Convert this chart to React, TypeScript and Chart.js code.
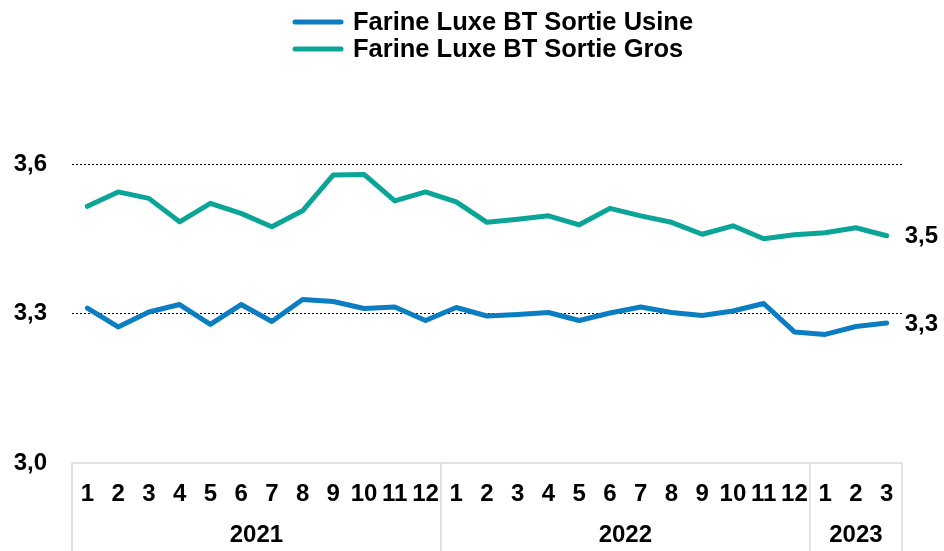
import React, { useEffect, useRef } from "react";
import { Chart, registerables } from "chart.js";

Chart.register(...registerables);

const months = ["1","2","3","4","5","6","7","8","9","10","11","12","1","2","3","4","5","6","7","8","9","10","11","12","1","2","3"];
const years = ["2021", "2022", "2023"];
const yearSizes = [12, 12, 3];

const usine = [3.311,3.273,3.303,3.318,3.278,3.318,3.284,3.328,3.324,3.310,3.313,3.286,3.312,3.295,3.298,3.302,3.286,3.301,3.313,3.302,3.296,3.305,3.320,3.263,3.258,3.274,3.281];
const gros = [3.515,3.544,3.531,3.484,3.521,3.501,3.474,3.506,3.578,3.579,3.526,3.544,3.524,3.483,3.489,3.496,3.478,3.511,3.496,3.483,3.459,3.476,3.450,3.458,3.462,3.472,3.456];

const seriesNames = ["Farine Luxe BT Sortie Usine", "Farine Luxe BT Sortie Gros"];
const seriesColors = ["#0B7DC1", "#0AA596"];
const yTicks = [3.0, 3.3, 3.6];

const FONT = "'Liberation Sans', Arial, sans-serif";
const fmt = (v: number) => v.toFixed(1).replace(".", ",");

const legendPlugin = {
  id: "twoRowLegend",
  afterDraw(chart: any) {
    const ctx = chart.ctx;
    ctx.save();
    chart.data.datasets.forEach((ds: any, i: number) => {
      const y = 22 + i * 27;
      ctx.strokeStyle = ds.borderColor;
      ctx.lineWidth = 5;
      ctx.lineCap = "round";
      ctx.beginPath();
      ctx.moveTo(295, y);
      ctx.lineTo(341, y);
      ctx.stroke();
      ctx.fillStyle = "#000";
      ctx.font = `bold 25.5px ${FONT}`;
      ctx.textAlign = "left";
      ctx.textBaseline = "middle";
      ctx.fillText(ds.label, 353, y + 1);
    });
    ctx.restore();
  },
};

const endLabelPlugin = {
  id: "endLabels",
  afterDatasetsDraw(chart: any) {
    const ctx = chart.ctx;
    ctx.save();
    ctx.fillStyle = "#000";
    ctx.font = `bold 24px ${FONT}`;
    ctx.textAlign = "left";
    ctx.textBaseline = "middle";
    chart.data.datasets.forEach((ds: any, i: number) => {
      const meta = chart.getDatasetMeta(i);
      const last = meta.data[meta.data.length - 1];
      const v = ds.data[ds.data.length - 1];
      ctx.fillText(fmt(v), last.x + 18, last.y + 1);
    });
    ctx.restore();
  },
};

const groupAxisPlugin = {
  id: "groupAxis",
  afterDraw(chart: any) {
    const ctx = chart.ctx;
    const x = chart.scales.x;
    const area = chart.chartArea;
    const half = (x.getPixelForValue(1) - x.getPixelForValue(0)) / 2;
    const bottom = chart.height;
    ctx.save();
    ctx.strokeStyle = "#D9D9D9";
    ctx.lineWidth = 1.5;
    ctx.beginPath();
    ctx.moveTo(area.left, area.bottom);
    ctx.lineTo(area.right, area.bottom);
    ctx.stroke();
    let start = 0;
    const bounds = [x.getPixelForValue(0) - half];
    yearSizes.forEach((n) => {
      start += n;
      bounds.push(x.getPixelForValue(start - 1) + half);
    });
    bounds.forEach((bx) => {
      ctx.beginPath();
      ctx.moveTo(bx, area.bottom);
      ctx.lineTo(bx, bottom);
      ctx.stroke();
    });
    ctx.fillStyle = "#000";
    ctx.font = `bold 24px ${FONT}`;
    ctx.textAlign = "center";
    ctx.textBaseline = "middle";
    years.forEach((yr, i) => {
      ctx.fillText(yr, (bounds[i] + bounds[i + 1]) / 2, 535);
    });
    ctx.restore();
  },
};

export default function App() {
  const ref = useRef<HTMLCanvasElement>(null);
  useEffect(() => {
    const chart = new Chart(ref.current!, {
      type: "line",
      data: {
        labels: months,
        datasets: [
          { label: seriesNames[0], data: usine, borderColor: seriesColors[0], backgroundColor: seriesColors[0], borderWidth: 5, pointRadius: 0, tension: 0, borderCapStyle: "round", borderJoinStyle: "round" },
          { label: seriesNames[1], data: gros, borderColor: seriesColors[1], backgroundColor: seriesColors[1], borderWidth: 5, pointRadius: 0, tension: 0, borderCapStyle: "round", borderJoinStyle: "round" },
        ],
      },
      options: {
        animation: false,
        responsive: true,
        maintainAspectRatio: false,
        layout: { padding: { top: 164, right: 42, left: 0, bottom: 0 } },
        plugins: { legend: { display: false }, tooltip: { enabled: false } },
        scales: {
          x: {
            type: "category",
            offset: true,
            grid: { display: false },
            border: { display: false },
            ticks: {
              color: "#000",
              font: { family: FONT, size: 24, weight: "bold" },
              padding: 9,
              maxRotation: 0,
              autoSkip: false,
            },
            afterFit: (s: any) => { s.height = 88; },
          },
          y: {
            min: 3.0,
            max: 3.6,
            afterBuildTicks: (s: any) => { s.ticks = yTicks.map((v) => ({ value: v })); },
            grid: {
              drawTicks: false,
              color: (c: any) => (c.tick && c.tick.value > 3.0 ? "#000" : "rgba(0,0,0,0)"),
              lineWidth: 1,
            },
            border: { display: false, dash: [2, 2] },
            ticks: {
              color: "#000",
              font: { family: FONT, size: 24, weight: "bold" },
              padding: 25,
              callback: (v: any) => fmt(Number(v)),
            },
            afterFit: (s: any) => { s.width = 72; },
          },
        },
      },
      plugins: [legendPlugin, endLabelPlugin, groupAxisPlugin],
    } as any);
    return () => chart.destroy();
  }, []);
  return (
    <div style={{ position: "fixed", left: 0, top: 0, width: 944, height: 551, background: "#fff" }}>
      <canvas ref={ref} />
    </div>
  );
}
